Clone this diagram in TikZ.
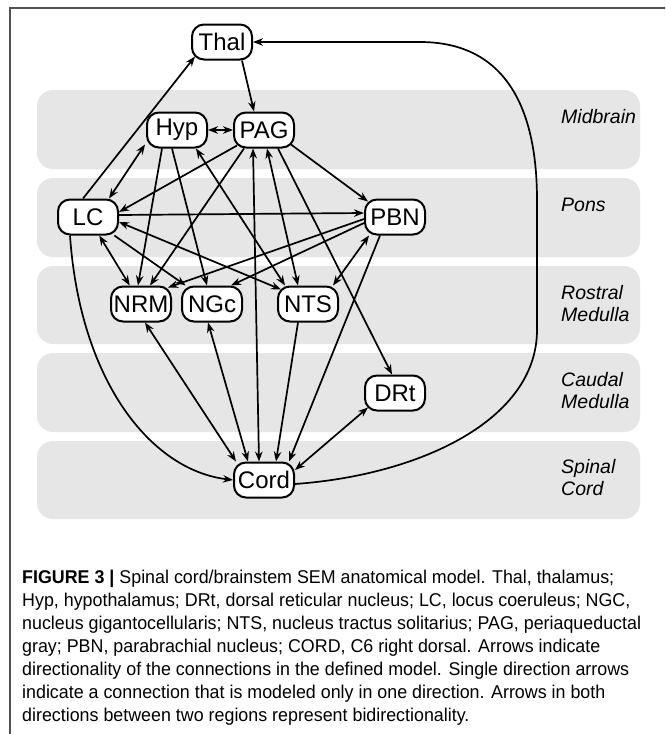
\documentclass[tikz,border=0pt]{standalone}
\usepackage{fontspec}
\setmainfont{Liberation Sans}
\newfontfamily\capfont{Liberation Sans}[FakeStretch=0.965]
\usetikzlibrary{arrows.meta}
\definecolor{bandgray}{HTML}{E6E6E6}
\definecolor{framegray}{HTML}{505050}
\tikzset{
  region/.style={draw=black, line width=2pt, rounded corners=12pt, fill=white,
    minimum width=60pt, minimum height=35pt, inner sep=0pt,
    font=\fontsize{24}{28}\selectfont},
  oneway/.style={line width=1.7pt, -{Stealth[length=10pt,width=7.5pt]}},
  twoway/.style={line width=1.7pt, {Stealth[length=10pt,width=7.5pt]}-{Stealth[length=10pt,width=7.5pt]}},
  band/.style={fill=bandgray, rounded corners=16pt},
  bandlabel/.style={font=\fontsize{19.5}{22}\selectfont\itshape, anchor=west, align=left, inner sep=0pt},
  captext/.style={font=\capfont\fontsize{18.5}{23}\selectfont, anchor=north west, align=left, inner sep=0pt}
}
\begin{document}
\begin{tikzpicture}[x=1pt,y=-1pt]
\useasboundingbox (0,0) rectangle (665,734);
\fill[white] (0,0) rectangle (665,734);
\draw[framegray, line width=1.5pt] (10,734) -- (10,8) -- (665,8);
% bands
\fill[band] (37,90) rectangle (640,169);
\fill[band] (37,178) rectangle (640,257);
\fill[band] (37,266) rectangle (640,344);
\fill[band] (37,353) rectangle (640,432);
\fill[band] (37,441) rectangle (640,519);
\node[bandlabel] (lmid) at (561,117) {Midbrain};
\node[bandlabel] (lpons) at (561,205) {Pons};
\node[bandlabel] (lros) at (561,304) {Rostral\\Medulla};
\node[bandlabel] (lcau) at (561,391) {Caudal\\Medulla};
\node[bandlabel] (lspi) at (561,478) {Spinal\\Cord};
% nodes
\node[region] (Thal) at (222,42) {Thal};
\node[region] (Hyp) at (177,130) {Hyp};
\node[region] (PAG) at (264,130) {PAG};
\node[region] (LC) at (88,217) {LC};
\node[region] (PBN) at (395,217) {PBN};
\node[region] (NRM) at (141,304) {NRM};
\node[region] (NGc) at (212,304) {NGc};
\node[region] (NTS) at (308,304) {NTS};
\node[region] (DRt) at (395,393) {DRt};
\node[region] (Cord) at (264,480) {Cord};
% edges
\draw[oneway] ([xshift=-5pt]LC.north) -- ([xshift=-27pt,yshift=4pt]Thal.south);
\draw[oneway] ([xshift=20pt]Thal.south) -- ([xshift=-10pt]PAG.north);
\draw[twoway] (Hyp.east) -- (PAG.west);
\draw[twoway] ([xshift=-10pt]LC.north east) -- ([xshift=-1pt,yshift=4pt]Hyp.south west);
\draw[oneway] ([xshift=4pt,yshift=3pt]PAG.south west) -- ([yshift=5pt]LC.east);
\draw[oneway] ([yshift=2pt]LC.east) -- ([yshift=4pt]PBN.west);
\draw[twoway] ([yshift=-5pt]LC.east) -- ([xshift=4pt,yshift=-4pt]NTS.north west);
\draw[oneway] (LC) -- (NGc);
\draw[twoway] (LC) -- (NRM);
\draw[oneway] ([xshift=-18pt]LC.south) .. controls (80,380) and (150,470) .. (Cord.west);
\draw[oneway] ([xshift=-15pt]Hyp.south) -- ([xshift=-3pt]NRM.north);
\draw[oneway] ([xshift=-5pt]Hyp.south) -- ([xshift=-5pt]NGc.north);
\draw[twoway] ([xshift=-12pt]Hyp.south east) -- ([xshift=8pt]NTS.north west);
\draw[oneway] ([xshift=-20pt]PAG.south) -- ([xshift=9pt]NRM.north);
\draw[twoway] ([xshift=-11pt]PAG.south) -- ([xshift=-5pt]Cord.north);
\draw[twoway] ([xshift=3pt]PAG.south) -- ([xshift=-10pt]NTS.north);
\draw[oneway] ([xshift=14pt]PAG.south) -- ([xshift=-3pt]DRt.north);
\draw[oneway] ([xshift=-4pt,yshift=4pt]PAG.south east) -- ([xshift=4pt,yshift=-3pt]PBN.north west);
\draw[oneway] ([yshift=-2pt]PBN.west) -- ([xshift=-4pt,yshift=-2pt]NRM.north east);
\draw[oneway] ([yshift=-6pt]PBN.west) -- ([xshift=-12pt]NGc.north east);
\draw[twoway] ([xshift=5pt]PBN.south west) -- ([xshift=-6pt]NTS.north east);
\draw[oneway] ([xshift=-15pt]PBN.south) -- ([xshift=-6pt]Cord.north east);
\draw[twoway] ([xshift=4pt]NRM.south) -- ([xshift=3pt]Cord.north west);
\draw[twoway] ([xshift=-4pt]NGc.south) -- ([xshift=-16pt]Cord.north);
\draw[oneway] ([xshift=-10pt]NTS.south) -- ([xshift=12pt]Cord.north);
\draw[twoway] ([xshift=4pt,yshift=4pt]DRt.south west) -- ([yshift=10pt]Cord.east);
\draw[oneway] ([yshift=-4pt]Cord.east) .. controls (420,475) and (537,420) .. (537,330)
   -- (537,200) .. controls (537,100) and (500,42) .. (420,42) -- (Thal.east);
% caption
\node[captext] (caption) at (22,570) {\textbf{FIGURE 3 |} Spinal cord/brainstem SEM anatomical model. Thal, thalamus;\\
Hyp, hypothalamus; DRt, dorsal reticular nucleus; LC, locus coeruleus; NGC,\\
nucleus gigantocellularis; NTS, nucleus tractus solitarius; PAG, periaqueductal\\
gray; PBN, parabrachial nucleus; CORD, C6 right dorsal. Arrows indicate\\
directionality of the connections in the defined model. Single direction arrows\\
indicate a connection that is modeled only in one direction. Arrows in both\\
directions between two regions represent bidirectionality.};
\end{tikzpicture}
\end{document}
